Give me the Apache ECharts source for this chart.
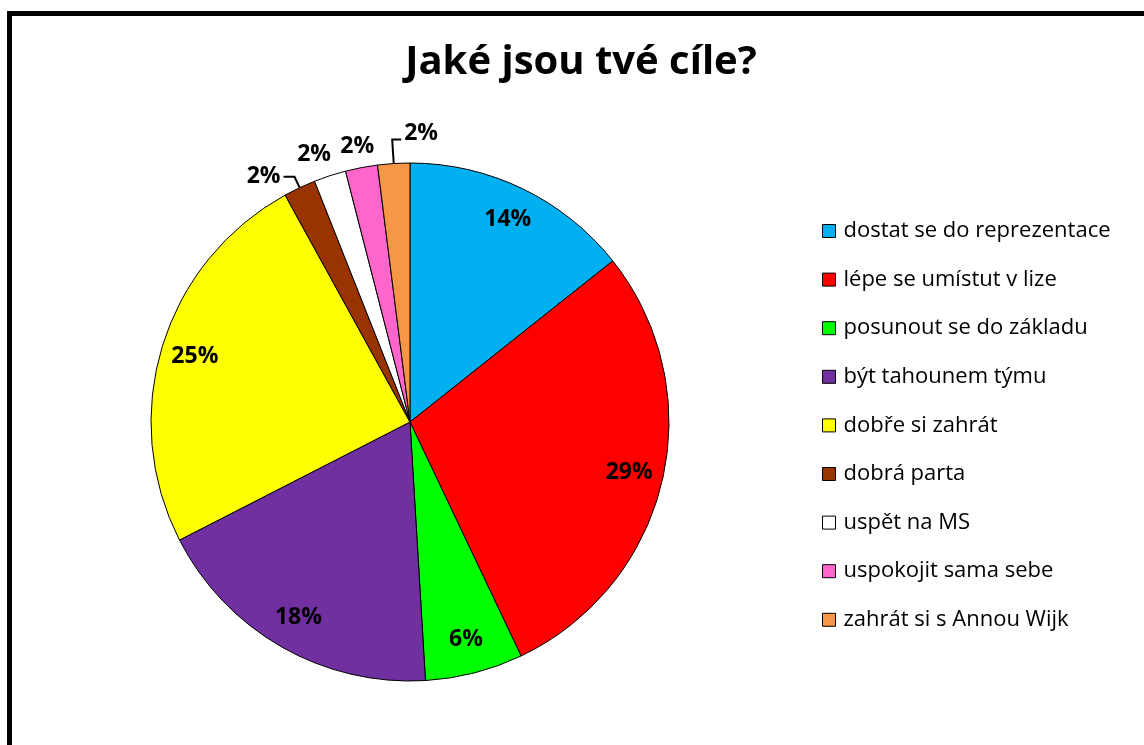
<!DOCTYPE html>
<html><head><meta charset="utf-8">
<style>
html,body{margin:0;padding:0;background:#fff;overflow:hidden;}
#frame{position:absolute;left:7px;top:11px;width:1200px;height:800px;border:5px solid #000;box-sizing:border-box;}
#chart{position:absolute;left:0;top:0;width:1144px;height:745px;}
</style>
<script src="https://cdn.jsdelivr.net/npm/echarts@6/dist/echarts.min.js"></script>
</head><body>
<div id="frame"></div>
<div id="chart"></div>
<script>
const categories = ['dostat se do reprezentace','lépe se umístut v lize','posunout se do základu','být tahounem týmu','dobře si zahrát','dobrá parta','uspět na MS','uspokojit sama sebe','zahrát si s Annou Wijk'];
const shares = [14.3, 28.6, 6.1, 18.4, 24.5, 2.0, 2.0, 2.0, 2.0];
const colors = ['#00B0F0','#FF0000','#00FF00','#7030A0','#FFFF00','#993300','#FFFFFF','#FF66CC','#F79646'];
const FONT = 'Open Sans';
// label style for the small outside labels: 'line' = leader line to the left, 'plainL'/'plain' = no line, 'right' = leader line to the right
const smallLabelStyle = {5:'line', 6:'plainL', 7:'plain', 8:'right'};

const chart = echarts.init(document.getElementById('chart'), null, {renderer:'canvas'});
const pct = p => Math.round(p.percent) + '%';
function itemLabel(i){
  const s = smallLabelStyle[i];
  if (!s) return {labelLine:{show:false}};
  if (s === 'line') return {label:{position:'outside', distanceToLabelLine:3}, labelLine:{show:true, length:12, length2:11}};
  if (s === 'plainL') return {label:{position:'outside', distanceToLabelLine:-8}, labelLine:{show:false, length:22, length2:0}};
  if (s === 'plain') return {label:{position:'outside', distanceToLabelLine:0}, labelLine:{show:false, length:22, length2:0}};
  return {label:{position:'outside', distanceToLabelLine:3}, labelLine:{show:true, length:24, length2:9}};
}
chart.setOption({
  animation:false,
  title:{text:'Jaké jsou tvé cíle?', left:576, textAlign:'center', top:38,
    textStyle:{fontFamily:FONT, fontSize:40, fontWeight:'bold', color:'#000'}},
  legend:{orient:'vertical', left:817, top:215, itemWidth:13, itemHeight:13, itemGap:26.6, icon:'rect',
    itemStyle:{borderColor:'#000', borderWidth:1},
    textStyle:{fontFamily:FONT, fontSize:22, lineHeight:20, color:'#000', padding:[0,0,0,3]},
    data:categories},
  series:[
    {type:'pie', center:[410,422], radius:259, startAngle:90, clockwise:true,
     itemStyle:{borderColor:'#000', borderWidth:1}, label:{show:false}, labelLine:{show:false},
     data:categories.map((c,i)=>({name:c, value:shares[i], itemStyle:{color:colors[i]}})), silent:true},
    {type:'pie', center:[410,422], radius:[185,259], startAngle:90, clockwise:true, silent:true,
     itemStyle:{color:'transparent', borderWidth:0},
     avoidLabelOverlap:false,
     label:{show:true, position:'inside', formatter:pct, fontFamily:FONT, fontSize:23, fontWeight:'bold', color:'#000'},
     labelLine:{lineStyle:{color:'#000', width:2}},
     labelLayout:function(p){
       const s = smallLabelStyle[p.dataIndex];
       if (s === 'plain') return {align:'center'};
       if (s === 'right' && p.labelLinePoints) {
         const pts = p.labelLinePoints;
         const p0 = pts[0], p1 = pts[1];
         const len2 = Math.abs(pts[2][0]-p1[0]);
         const p2 = [p1[0] + len2, p1[1]];
         return {x:p2[0]+3, y:p2[1]-6, align:'left', verticalAlign:'middle', labelLinePoints:[p0,p1,p2]};
       }
       return {};
     },
     data:categories.map((c,i)=>Object.assign({name:c, value:shares[i]}, itemLabel(i)))}
  ]
});
</script>
</body></html>
